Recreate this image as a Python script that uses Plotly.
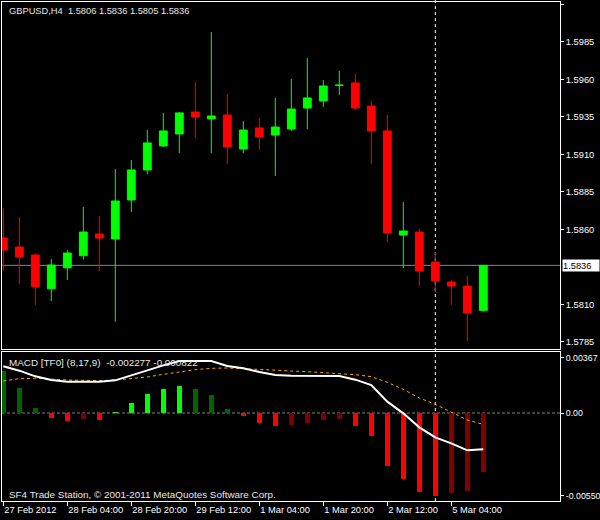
import plotly.graph_objects as go

# ---------------- data ----------------
times = ["27 Feb 12:00", "27 Feb 16:00", "27 Feb 20:00", "28 Feb 00:00", "28 Feb 04:00",
         "28 Feb 08:00", "28 Feb 12:00", "28 Feb 16:00", "28 Feb 20:00", "29 Feb 00:00",
         "29 Feb 04:00", "29 Feb 08:00", "29 Feb 12:00", "29 Feb 16:00", "29 Feb 20:00",
         "1 Mar 00:00", "1 Mar 04:00", "1 Mar 08:00", "1 Mar 12:00", "1 Mar 16:00",
         "1 Mar 20:00", "2 Mar 00:00", "2 Mar 04:00", "2 Mar 08:00", "2 Mar 12:00",
         "2 Mar 16:00", "2 Mar 20:00", "5 Mar 00:00", "5 Mar 04:00", "5 Mar 08:00",
         "5 Mar 12:00"]

opens = [1.58542, 1.58482, 1.58429, 1.58204, 1.58344, 1.58424, 1.58569, 1.58536, 1.58796, 1.58996,
         1.59156, 1.59236, 1.59382, 1.59336, 1.59362, 1.59136, 1.59276, 1.59229, 1.59269, 1.59409,
         1.59456, 1.59560, 1.59576, 1.59422, 1.59256, 1.58562, 1.58582, 1.58382, 1.58249, 1.58222,
         1.5806]
highs = [1.58740, 1.58682, 1.58440, 1.58402, 1.58462, 1.58749, 1.58689, 1.59002, 1.59062, 1.59262,
         1.59376, 1.59382, 1.59582, 1.59916, 1.59502, 1.59322, 1.59342, 1.59476, 1.59602, 1.59742,
         1.59596, 1.59656, 1.59636, 1.59456, 1.59362, 1.58782, 1.58602, 1.58449, 1.58262, 1.58289,
         1.5836]
lows = [1.58324, 1.58236, 1.58096, 1.58122, 1.58262, 1.58398, 1.58324, 1.57984, 1.58716, 1.58969,
        1.59149, 1.59109, 1.59209, 1.59109, 1.59036, 1.59109, 1.59129, 1.58956, 1.59256, 1.59269,
        1.59416, 1.59496, 1.59396, 1.59036, 1.58516, 1.58342, 1.58222, 1.58182, 1.58096, 1.57856,
        1.5805]
closes = [1.58462, 1.58416, 1.58218, 1.58362, 1.58442, 1.58582, 1.58542, 1.58789, 1.58996, 1.59176,
          1.59256, 1.59376, 1.59349, 1.59356, 1.59149, 1.59262, 1.59216, 1.59282, 1.59402, 1.59476,
          1.59556, 1.59561, 1.59409, 1.59256, 1.58576, 1.58589, 1.58322, 1.58256, 1.58222, 1.58042,
          1.5836]

macd_hist = [0.002793, 0.001685, 0.000333, -0.000310, -0.000532, -0.000399, -0.000466, 0.000089,
             0.000665, 0.001286, 0.001596, 0.001818, 0.001596, 0.001197, 0.000266, -0.000177,
             -0.000665, -0.000865, -0.000798, -0.000665, -0.000466, -0.000399, -0.000865, -0.001507,
             -0.003503, -0.004367, -0.005232, -0.005498, -0.005298, -0.005165, -0.003902]
macd_main = [0.003104, 0.002815, 0.002439, 0.002195, 0.002084, 0.002084, 0.002084, 0.002173,
             0.002505, 0.002860, 0.003170, 0.003458, 0.003481, 0.003458, 0.003126, 0.002971,
             0.002727, 0.002527, 0.002483, 0.002483, 0.002483, 0.002461, 0.002217, 0.001862,
             0.000754, -0.000022, -0.000953, -0.001618, -0.002017, -0.002483, -0.002416]
macd_signal = [0.002128, 0.002283, 0.002306, 0.002239, 0.002195, 0.002173, 0.002150, 0.002195,
               0.002283, 0.002394, 0.002572, 0.002727, 0.002882, 0.002971, 0.002993, 0.002948,
               0.002882, 0.002815, 0.002793, 0.002749, 0.002682, 0.002616, 0.002549, 0.002416,
               0.002040, 0.001574, 0.000998, 0.000576, 0.000044, -0.000466, -0.000754]

x_tick_at = ["27 Feb 12:00", "28 Feb 04:00", "28 Feb 20:00", "29 Feb 12:00", "1 Mar 04:00",
             "1 Mar 20:00", "2 Mar 12:00", "5 Mar 04:00"]
x_tick_labels = ["27 Feb 2012", "28 Feb 04:00", "28 Feb 20:00", "29 Feb 12:00", "1 Mar 04:00",
                 "1 Mar 20:00", "2 Mar 12:00", "5 Mar 04:00"]
price_ticks = [1.5785, 1.5810, 1.5860, 1.5885, 1.5910, 1.5935, 1.5960, 1.5985, 1.6010]
macd_ticks = [0.00367, 0.0, -0.00550]
macd_tick_labels = ["0.00367", "0.00", "-0.00550"]
cursor_time = "5 Mar 00:00"
symbol = "GBPUSD,H4"
macd_title = "MACD [TF0] (8,17,9)  -0.002277 -0.000822"
footer = "SF4 Trade Station, \u00a9 2001-2011 MetaQuotes Software Corp."

# ---------------- styling ----------------
FONT = "Liberation Sans, Arial, sans-serif"
FS = 9.3
FS_PANE = 9.9

hist_colors = []
for i, v in enumerate(macd_hist):
    rising = i > 0 and v > macd_hist[i - 1]
    if v >= 0:
        hist_colors.append("#00ff00" if rising else "#006400")
    else:
        hist_colors.append("#800000" if rising else "#ff0000")

fig = go.Figure()

fig.add_trace(go.Candlestick(
    x=times, open=opens, high=highs, low=lows, close=closes,
    xaxis="x2", yaxis="y",
    increasing=dict(line=dict(color="#00ff00", width=1), fillcolor="#00ff00"),
    decreasing=dict(line=dict(color="#ff0000", width=1), fillcolor="#ff0000"),
    whiskerwidth=0, showlegend=False, hoverinfo="skip",
))

fig.add_trace(go.Bar(
    x=times, y=macd_hist, marker=dict(color=hist_colors, line=dict(width=0)),
    width=0.33, xaxis="x", yaxis="y2", showlegend=False, hoverinfo="skip",
))
fig.add_trace(go.Scatter(
    x=times, y=macd_signal, mode="lines",
    line=dict(color="#ffa500", width=1, dash="3px,3px"),
    xaxis="x", yaxis="y2", showlegend=False, hoverinfo="skip",
))
fig.add_trace(go.Scatter(
    x=times, y=macd_main, mode="lines",
    line=dict(color="#ffffff", width=2),
    xaxis="x", yaxis="y2", showlegend=False, hoverinfo="skip",
))

W, H = 600, 520
ml, mr, mt, mb = 2, 40, 2, 19
plot_h = H - mt - mb
plot_w = W - ml - mr
main_bottom_px = 349
macd_top_px = 352
main_dom = [(H - mb - main_bottom_px) / plot_h, 1]
macd_dom = [0, (H - mb - macd_top_px) / plot_h]

px_per_price = 15000.0
p_top = 1.60129 - 2 / px_per_price
p_bot = 1.60129 - main_bottom_px / px_per_price

px_per_macd = 15036.0
zero_px = 413
m_top = (zero_px - macd_top_px) / px_per_macd
m_bot = -((H - mb) - zero_px) / px_per_macd

bar_px = 16.0
first_center_px = 3.3
x_left = (ml - first_center_px) / bar_px
x_right = ((W - mr) - first_center_px) / bar_px

axis_common = dict(showgrid=False, zeroline=False, showline=True, linecolor="white",
                   linewidth=1, mirror=True, automargin=False, fixedrange=True)

fig.update_layout(
    width=W, height=H, autosize=False,
    margin=dict(l=ml, r=mr, t=mt, b=mb, pad=0, autoexpand=False),
    paper_bgcolor="black", plot_bgcolor="black",
    font=dict(family=FONT, size=FS, color="white"),
    showlegend=False,
    bargap=0,
    xaxis=dict(domain=[0, 1], anchor="y2", type="category", categoryorder="array",
               categoryarray=times, range=[x_left, x_right],
               ticks="outside", ticklen=4, tickcolor="white", tickwidth=1,
               tickmode="array", tickvals=x_tick_at, ticktext=x_tick_labels,
               ticklabelposition="outside right", tickangle=0,
               tickfont=dict(family=FONT, size=FS, color="white"),
               rangeslider=dict(visible=False), **axis_common),
    xaxis2=dict(domain=[0, 1], anchor="y", matches="x", type="category",
                showticklabels=False, ticks="", rangeslider=dict(visible=False),
                **axis_common),
    yaxis=dict(domain=main_dom, range=[p_bot, p_top], side="right", anchor="x2",
               ticks="outside", ticklen=3, tickcolor="white",
               tickmode="array", tickvals=price_ticks,
               ticktext=[f"{v:.4f}" for v in price_ticks],
               tickfont=dict(family=FONT, size=FS, color="white"), **axis_common),
    yaxis2=dict(domain=macd_dom, range=[m_bot, m_top], side="right", anchor="x",
                ticks="outside", ticklen=3, tickcolor="white",
                tickmode="array", tickvals=macd_ticks, ticktext=macd_tick_labels,
                ticklabelstandoff=0,
                tickfont=dict(family=FONT, size=8.8, color="white"), **axis_common),
)

shapes = [
    dict(type="line", xref="paper", yref="y", x0=0, x1=1, y0=closes[-1], y1=closes[-1],
         line=dict(color="#778899", width=1), layer="below"),
    dict(type="line", xref="paper", yref="y2", x0=0, x1=1, y0=0, y1=0,
         line=dict(color="#808080", width=1, dash="3px,2px"), layer="below"),
    dict(type="line", xref="x", yref="paper", x0=times.index(cursor_time),
         x1=times.index(cursor_time), y0=0, y1=1.004,
         line=dict(color="white", width=1, dash="3px,3px"), layer="below"),
]
fig.update_layout(shapes=shapes)

header = f"{symbol}  {opens[-1]:.4f} {highs[-1]:.4f} {lows[-1]:.4f} {closes[-1]:.4f}"
annotations = [
    dict(text=header, xref="paper", yref="paper", x=(7 - ml) / plot_w,
         y=(H - mb - 11) / plot_h, xanchor="left", yanchor="middle", showarrow=False,
         font=dict(family=FONT, size=FS, color="#e8e8e8")),
    dict(text=f"{closes[-1]:.4f}", xref="paper", yref="y", x=(562 - ml) / plot_w,
         y=closes[-1], xanchor="left", yanchor="middle", showarrow=False,
         bgcolor="white", borderpad=0, width=36, height=11, align="left",
         font=dict(family=FONT, size=FS, color="black")),
    dict(text=macd_title, xref="paper", yref="paper", x=(7 - ml) / plot_w,
         y=(H - mb - 362) / plot_h, xanchor="left", yanchor="middle", showarrow=False,
         font=dict(family=FONT, size=FS_PANE, color="#e8e8e8")),
    dict(text=footer, xref="paper", yref="paper", x=(7 - ml) / plot_w,
         y=(H - mb - 494) / plot_h, xanchor="left", yanchor="middle", showarrow=False,
         font=dict(family=FONT, size=FS_PANE, color="#e8e8e8")),
]
fig.update_layout(annotations=annotations)

fig.write_html(
    "out.html",
    config={"displayModeBar": False, "staticPlot": True},
    post_script="document.body.style.margin='0';document.body.style.background='black';",
)
